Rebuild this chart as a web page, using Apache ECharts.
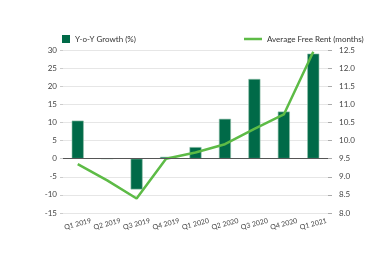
<!DOCTYPE html>
<html><head><meta charset="utf-8">
<script src="https://cdn.jsdelivr.net/npm/echarts@6/dist/echarts.min.js"></script>
<style>html,body{margin:0;padding:0;background:#fff}#c{width:390px;height:260px}</style>
</head><body><div id="c"></div>
<script>
const categories = ['Q1 2019','Q2 2019','Q3 2019','Q4 2019','Q1 2020','Q2 2020','Q3 2020','Q4 2020','Q1 2021'];
const yoyGrowth = [10.5, 0, -8.5, 0.5, 3.2, 11, 22, 13, 29];
const freeRent = [9.35, 8.9, 8.4, 9.5, 9.67, 9.9, 10.32, 10.72, 12.45];
const FONT = 'Lato';
const chart = echarts.init(document.getElementById('c'), null, {renderer:'canvas'});
chart.setOption({
  animation:false,
  textStyle:{fontFamily:FONT},
  legend:[
    {data:[{name:'Y-o-Y Growth (%)', icon:'rect', itemStyle:{borderWidth:0, color:'#006A48'}}],
     left:57, top:30, itemWidth:8, itemHeight:8, itemGap:5,
     textStyle:{fontSize:8, color:'#333', fontFamily:FONT}},
    {data:[{name:'Average Free Rent (months)', icon:'rect', itemStyle:{color:'#5DBB46'}}],
     left:239, top:30, itemWidth:18, itemHeight:2.5, itemGap:5,
     textStyle:{fontSize:8, color:'#333', fontFamily:FONT}}
  ],
  grid:{left:63, right:62, top:50, bottom:47},
  xAxis:{type:'category', data:categories,
    axisLine:{show:false}, axisTick:{show:false},
    axisLabel:{rotate:15, align:'center', margin:11, fontSize:7, color:'#444', fontFamily:FONT, interval:0}},
  yAxis:[
    {type:'value', min:-15, max:30, interval:5,
     axisLine:{show:false}, axisTick:{show:true, length:3, lineStyle:{color:'#ccc'}},
     axisLabel:{fontSize:8, color:'#444', margin:6, fontFamily:FONT},
     splitLine:{lineStyle:{color:'#e6e6e6'}}},
    {type:'value', min:8, max:12.5, interval:0.5,
     axisLine:{show:false}, axisTick:{show:true, length:4, lineStyle:{color:'#aaa'}},
     axisLabel:{fontSize:8, color:'#444', margin:11, fontFamily:FONT, formatter:v=>v.toFixed(1)},
     splitLine:{show:false}}
  ],
  series:[
    {name:'Y-o-Y Growth (%)', type:'bar', data:yoyGrowth, barWidth:12, yAxisIndex:0,
     itemStyle:{color:'#006A48', borderColor:'#8fbfa8', borderWidth:0.6},
     markLine:{silent:true, symbol:'none', label:{show:false},
       lineStyle:{color:'#555', type:'solid', width:1}, data:[{yAxis:0}]}},
    {name:'Average Free Rent (months)', type:'line', data:freeRent, yAxisIndex:1,
     symbol:'none', lineStyle:{color:'#5DBB46', width:2.5}, itemStyle:{color:'#5DBB46'}}
  ]
});
</script></body></html>
